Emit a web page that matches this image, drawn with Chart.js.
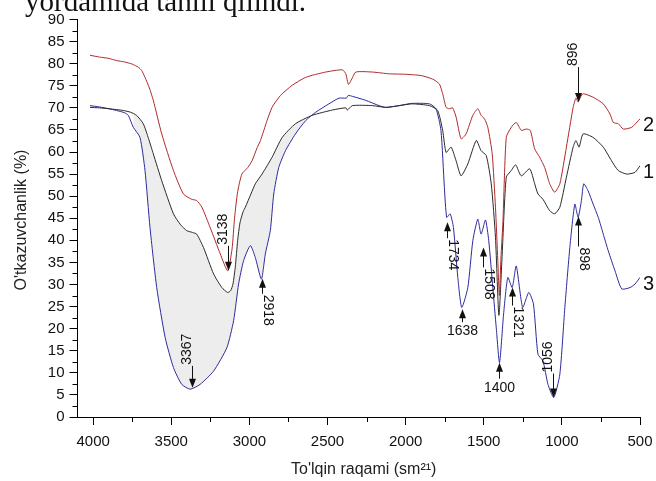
<!DOCTYPE html>
<html>
<head>
<meta charset="utf-8">
<script src="https://cdn.jsdelivr.net/npm/chart.js@4/dist/chart.umd.min.js"></script>
<style>
  html, body { margin: 0; padding: 0; background: #fff; }
  #wrap { width: 656px; height: 481px; position: relative; }
</style>
</head>
<body>
<div id="wrap"><canvas id="c" width="656" height="481"></canvas></div>
<script>
// ---- data (wavenumber, sm^-1 ; transmittance, %) ----
const waveRed = [4020,3960,3900,3850,3800,3750,3711,3690,3668,3640,3615,3561,3486,3422,3370,3337,3304,3251,3186,3139,3111,3095,3075,3048,3010,2983,2950,2929,2887,2855,2801,2726,2640,2512,2405,2383,2366,2345,2319,2212,2105,2000,1900,1827,1784,1763,1741,1720,1699,1677,1645,1613,1570,1538,1517,1495,1474,1446,1425,1410,1400,1390,1377,1356,1324,1292,1260,1228,1202,1174,1142,1110,1078,1046,1013,971,928,910,896,880,864,800,735,692,671,639,607,553,500];
const transRed = [81.9,81.5,81.2,80.7,80.4,79.9,79.2,78.5,76.9,74.5,71.7,64.1,55.8,50.5,49.3,49.0,47.5,42.9,36.9,33.1,38.0,45.0,51.0,55.0,56.5,58.0,61.0,62.6,67.1,70.1,72.8,75.1,76.9,78.1,78.6,77.7,75.3,76.5,78.1,78.1,77.7,77.6,77.3,76.5,75.4,73.2,70.1,69.8,70.0,67.9,63.0,64.1,68.3,69.8,68.3,67.5,65.6,59.6,47.5,35.4,27.5,36.0,44.4,63.3,65.6,66.7,64.9,65.2,64.9,60.7,58.8,56.5,52.8,50.9,52.8,61.1,70.1,72.2,71.3,72.5,73.2,72.4,70.9,68.6,66.7,66.4,65.2,65.6,67.5];

const waveBlack = [4020,3960,3900,3850,3807,3760,3722,3679,3645,3615,3561,3486,3440,3401,3365,3337,3294,3229,3176,3139,3120,3105,3090,3075,3060,3040,3026,2990,2962,2919,2855,2790,2705,2598,2469,2383,2373,2341,2212,2127,2041,1960,1848,1795,1763,1741,1709,1677,1645,1602,1548,1517,1484,1452,1425,1403,1382,1356,1324,1296,1260,1206,1174,1153,1121,1078,1046,1013,971,928,910,890,864,800,735,682,639,585,532,500];
const transBlack = [70.1,70.0,69.8,69.6,69.4,69.0,68.3,66.4,63.0,59.6,53.5,46.0,43.5,42.2,41.8,41.4,38.4,32.4,29.3,28.2,28.6,30.1,34.0,40.0,44.0,46.5,47.5,50.5,52.8,55.0,58.8,63.3,66.4,68.3,69.5,70.0,69.5,70.5,70.5,70.1,70.5,70.9,70.5,69.4,64.9,59.9,61.1,58.0,54.6,57.3,62.6,60.3,59.2,52.8,40.7,23.0,36.9,54.3,55.8,57.1,54.6,56.2,52.8,50.5,49.3,46.7,46.0,47.5,54.3,61.1,62.6,61.1,64.1,63.3,61.1,58.0,55.8,55.0,55.4,56.9];

const waveBlue = [4020,3960,3900,3850,3800,3775,3743,3700,3668,3636,3593,3539,3486,3433,3379,3315,3229,3144,3101,3069,3037,2994,2962,2923,2898,2866,2844,2812,2769,2705,2640,2576,2491,2426,2380,2367,2341,2256,2170,2127,2041,1960,1848,1806,1774,1752,1737,1715,1694,1666,1641,1602,1570,1538,1517,1489,1468,1442,1420,1399,1373,1346,1318,1292,1251,1212,1182,1153,1121,1089,1052,1013,981,949,917,896,875,860,832,800,767,735,703,660,617,564,532,500];
const transBlue = [70.5,70.2,69.8,69.4,68.9,68.3,65.6,63.3,55.8,42.9,29.3,18.0,11.2,7.4,6.3,7.4,10.4,15.7,21.8,30.1,35.4,38.8,36.1,31.2,36.9,42.2,50.5,56.5,60.3,64.1,67.1,69.0,70.9,72.2,72.2,72.8,72.6,71.7,70.5,70.1,70.5,71.0,70.9,69.8,64.9,52.0,45.2,46.0,42.9,31.6,24.8,29.3,39.9,44.8,41.4,44.6,39.9,29.3,20.2,12.3,23.3,31.6,29.3,34.2,24.8,28.2,25.6,14.2,12.7,7.4,4.4,9.7,24.8,38.4,48.2,45.2,49.0,52.8,51.2,48.2,45.2,41.4,37.6,33.1,29.0,29.3,30.1,31.6];

const curveNames = ['2', '1', '3'];
const xTicks = [4000, 3500, 3000, 2500, 2000, 1500, 1000, 500];
const yTicks = [0,5,10,15,20,25,30,35,40,45,50,55,60,65,70,75,80,85,90];

// peak annotations
const annLabels = ['3367','3138','2918','1734','1638','1508','1400','1321','1056','898','896'];
const annWave   = [3367, 3138, 2918, 1734, 1638, 1508, 1400, 1321, 1056, 898, 896];
const annTip    = [6.6, 33.1, 31.3, 44.1, 24.4, 38.4, 12.3, 29.3, 4.4, 45.4, 71.3];

const shadeFrom = 3745, shadeTo = 2600;

// ---- helpers ----
const pts = (w, t) => w.map((x, i) => ({x: x, y: t[i]}));
const shadePts = pts(waveBlue, transBlue).filter(p => p.x <= shadeFrom && p.x >= shadeTo);

const COLORS = ['#b02a2a', '#2a2a2a', '#2b2b9c'];
const FONT = '"Liberation Sans", Arial, sans-serif';

// annotation styling (not data)
const annStyle = {
  '3367': {dir: 'down', len: 22},
  '3138': {dir: 'down', len: 25},
  '2918': {dir: 'up', len: 15},
  '1734': {dir: 'up', len: 16},
  '1638': {dir: 'upH', len: 13},
  '1508': {dir: 'up', len: 20},
  '1400': {dir: 'upH', len: 16},
  '1321': {dir: 'up', len: 18},
  '1056': {dir: 'down', len: 24},
  '898':  {dir: 'up', len: 30},
  '896':  {dir: 'down', len: 35}
};

const decoPlugin = {
  id: 'deco',
  afterDraw(chart) {
    const ctx = chart.ctx;
    const xs = chart.scales.x, ys = chart.scales.y;
    const area = chart.chartArea;
    ctx.save();
    // minor ticks
    ctx.strokeStyle = '#000';
    ctx.lineWidth = 1;
    ctx.beginPath();
    for (let i = 0; i < xTicks.length - 1; i++) {
      const v = (xTicks[i] + xTicks[i + 1]) / 2;
      const px = Math.round(xs.getPixelForValue(v)) + 0.5;
      ctx.moveTo(px, area.bottom);
      ctx.lineTo(px, area.bottom + 5);
    }
    for (let i = 0; i < yTicks.length - 1; i++) {
      const v = (yTicks[i] + yTicks[i + 1]) / 2;
      const py = Math.round(ys.getPixelForValue(v)) + 0.5;
      ctx.moveTo(area.left, py);
      ctx.lineTo(area.left - 5, py);
    }
    ctx.stroke();

    // annotations
    ctx.fillStyle = '#111';
    ctx.strokeStyle = '#111';
    ctx.font = '14px ' + FONT;
    annLabels.forEach((lab, i) => {
      const st = annStyle[lab];
      const x = Math.round(xs.getPixelForValue(annWave[i])) + 0.5;
      const yTip = ys.getPixelForValue(annTip[i]);
      const sgn = st.dir === 'down' ? -1 : 1; // direction from tip to tail
      const yEnd = yTip + sgn * st.len;
      ctx.beginPath();
      ctx.moveTo(x, yTip + sgn * 8);
      ctx.lineTo(x, yEnd);
      ctx.stroke();
      ctx.beginPath();
      ctx.moveTo(x, yTip);
      ctx.lineTo(x - 3.5, yTip + sgn * 9);
      ctx.lineTo(x + 3.5, yTip + sgn * 9);
      ctx.closePath();
      ctx.fill();
      ctx.save();
      if (st.dir === 'down') {
        ctx.translate(x - 5, yEnd - 1);
        ctx.rotate(-Math.PI / 2);
        ctx.textAlign = 'left';
        ctx.textBaseline = 'middle';
        ctx.fillText(lab, 0, 0);
      } else if (st.dir === 'up') {
        ctx.translate(x + 5, yEnd + 1);
        ctx.rotate(Math.PI / 2);
        ctx.textAlign = 'left';
        ctx.textBaseline = 'middle';
        ctx.fillText(lab, 0, 0);
      } else {
        ctx.textAlign = 'center';
        ctx.textBaseline = 'top';
        ctx.fillText(lab, x, yEnd + 2);
      }
      ctx.restore();
    });

    // curve numbers
    ctx.fillStyle = '#111';
    ctx.font = '20px ' + FONT;
    ctx.textAlign = 'left';
    ctx.textBaseline = 'middle';
    chart.data.datasets.slice(0, 3).forEach((ds, i) => {
      const last = ds.data[ds.data.length - 1];
      ctx.fillText(curveNames[i], xs.getPixelForValue(last.x) + 3, ys.getPixelForValue(last.y) + 7);
    });

    // axis titles
    ctx.font = '16px ' + FONT;
    ctx.fillStyle = '#222';
    ctx.textAlign = 'center';
    ctx.textBaseline = 'middle';
    ctx.fillText("To'lqin raqami (sm\u00B2\u00B9)", (area.left + area.right) / 2 + 5, 470);
    ctx.save();
    ctx.translate(22, 220);
    ctx.rotate(-Math.PI / 2);
    ctx.fillText("O'tkazuvchanlik (%)", 0, 0);
    ctx.restore();

    // cut-off text line at the very top
    ctx.font = '29px "Liberation Serif", "Times New Roman", serif';
    ctx.fillStyle = '#111';
    ctx.textAlign = 'left';
    ctx.textBaseline = 'alphabetic';
    ctx.fillText('yordamida tahlil qilindi.', 25, 11);
    ctx.restore();
  }
};

new Chart(document.getElementById('c'), {
  type: 'line',
  data: {
    datasets: [
      {label: curveNames[0], data: pts(waveRed, transRed), borderColor: COLORS[0], borderWidth: 1, pointRadius: 0, tension: 0.2, fill: false},
      {label: curveNames[1], data: pts(waveBlack, transBlack), borderColor: COLORS[1], borderWidth: 1, pointRadius: 0, tension: 0.2, fill: false},
      {label: curveNames[2], data: pts(waveBlue, transBlue), borderColor: COLORS[2], borderWidth: 1, pointRadius: 0, tension: 0.2, fill: false},
      {label: 'shade', data: shadePts, borderWidth: 0, borderColor: 'rgba(0,0,0,0)', pointRadius: 0, tension: 0.2,
       fill: {target: 1}, backgroundColor: 'rgba(0,0,0,0.07)'}
    ]
  },
  options: {
    responsive: false,
    animation: false,
    events: [],
    layout: {padding: {top: 19.5, right: 0, left: 0, bottom: 0}},
    plugins: {legend: {display: false}, tooltip: {enabled: false}, filler: {propagate: false}},
    scales: {
      x: {
        type: 'linear', reverse: true, min: 500, max: 4100,
        afterFit: s => { s.height = 481 - 417; s.paddingRight = 16; s.paddingLeft = 0; },
        afterBuildTicks: s => { s.ticks = xTicks.map(v => ({value: v})); },
        ticks: {color: '#111', font: {family: FONT, size: 15}, padding: 8, maxRotation: 0, autoSkip: false,
                callback: v => String(v)},
        grid: {drawOnChartArea: false, drawTicks: true, tickLength: 8, color: '#000', tickColor: '#000'},
        border: {display: true, color: '#000', width: 1}
      },
      y: {
        min: 0, max: 90,
        afterFit: s => { s.width = 77.5; s.paddingTop = 0; s.paddingBottom = 0; },
        afterBuildTicks: s => { s.ticks = yTicks.map(v => ({value: v})); },
        ticks: {color: '#111', font: {family: FONT, size: 15}, padding: 5, autoSkip: false,
                callback: v => String(v)},
        grid: {drawOnChartArea: false, drawTicks: true, tickLength: 8, color: '#000', tickColor: '#000'},
        border: {display: true, color: '#000', width: 1}
      }
    }
  },
  plugins: [decoPlugin]
});
</script>
</body>
</html>
